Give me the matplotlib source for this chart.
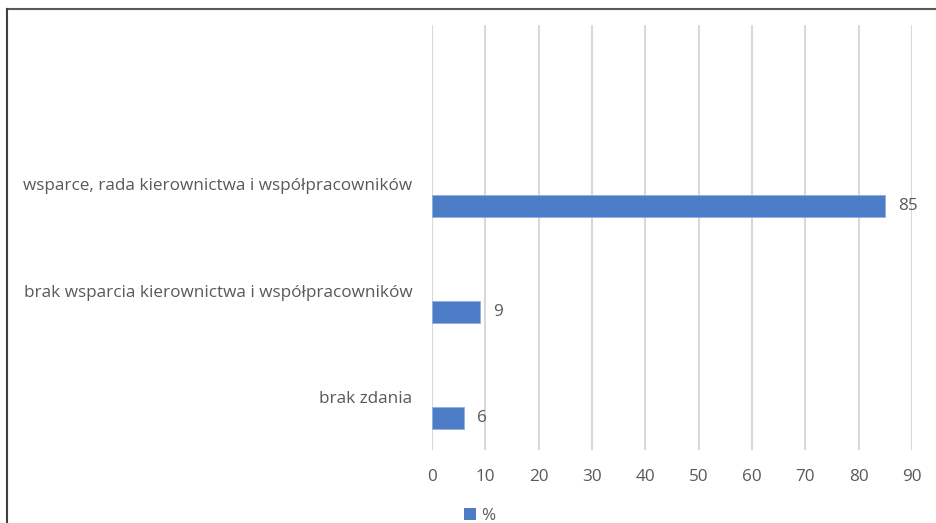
import matplotlib
matplotlib.use("Agg")
import matplotlib.pyplot as plt
from matplotlib.lines import Line2D
from matplotlib.patches import Patch

categories = ["brak zdania",
              "brak wsparcia kierownictwa i współpracowników",
              "wsparce, rada kierownictwa i współpracowników",
              ""]
values = [6, 9, 85]
series_name = "%"
xticks = [0, 10, 20, 30, 40, 50, 60, 70, 80, 90]

W, H = 936, 523
fig = plt.figure(figsize=(W / 100, H / 100), dpi=100)
ax = fig.add_axes([432 / W, 1 - 450 / H, (912 - 432) / W, (450 - 25) / H])

bar_color = "#4e7dc8"
txt_color = "#595959"
font = "Open Sans"
fs = 12.3

ypos = list(range(len(categories)))
offset = -0.2
ax.barh([y + offset for y in ypos[:len(values)]], values, height=0.205,
        color=bar_color, edgecolor="#8fb0e0", linewidth=0.6, zorder=3)
for y, v in zip(ypos, values):
    ax.text(v + 2.4, y + offset, f"{v}", va="center", ha="left",
            fontsize=fs, color=txt_color, family=font)

ax.set_ylim(-0.5, len(categories) - 0.5)
ax.set_xlim(0, 90)
ax.set_xticks(xticks)
ax.set_xticklabels([str(t) for t in xticks], family=font, fontsize=fs, color=txt_color)
ax.set_yticks(ypos)
ax.set_yticklabels(categories, family=font, fontsize=fs, color=txt_color)
ax.tick_params(axis="both", length=0)
ax.tick_params(axis="y", pad=14)
ax.tick_params(axis="x", pad=14)
for s in ax.spines.values():
    s.set_visible(False)
ax.grid(axis="x", color="#d9d9d9", linewidth=1.5, zorder=0)
ax.set_axisbelow(True)

fig.legend(handles=[Patch(facecolor=bar_color, label=series_name)],
           loc="center", bbox_to_anchor=(480 / W, 1 - 516 / H), frameon=False,
           handlelength=0.7, handleheight=0.7, handletextpad=0.3,
           prop={"family": font, "size": fs}, labelcolor=txt_color)

fig.add_artist(Line2D([7 / W, 1], [1 - 9 / H, 1 - 9 / H], color="#595959", linewidth=1.5))
fig.add_artist(Line2D([7 / W, 7 / W], [0, 1 - 9 / H], color="#404040", linewidth=1.5))

fig.savefig("out.png", dpi=100)
